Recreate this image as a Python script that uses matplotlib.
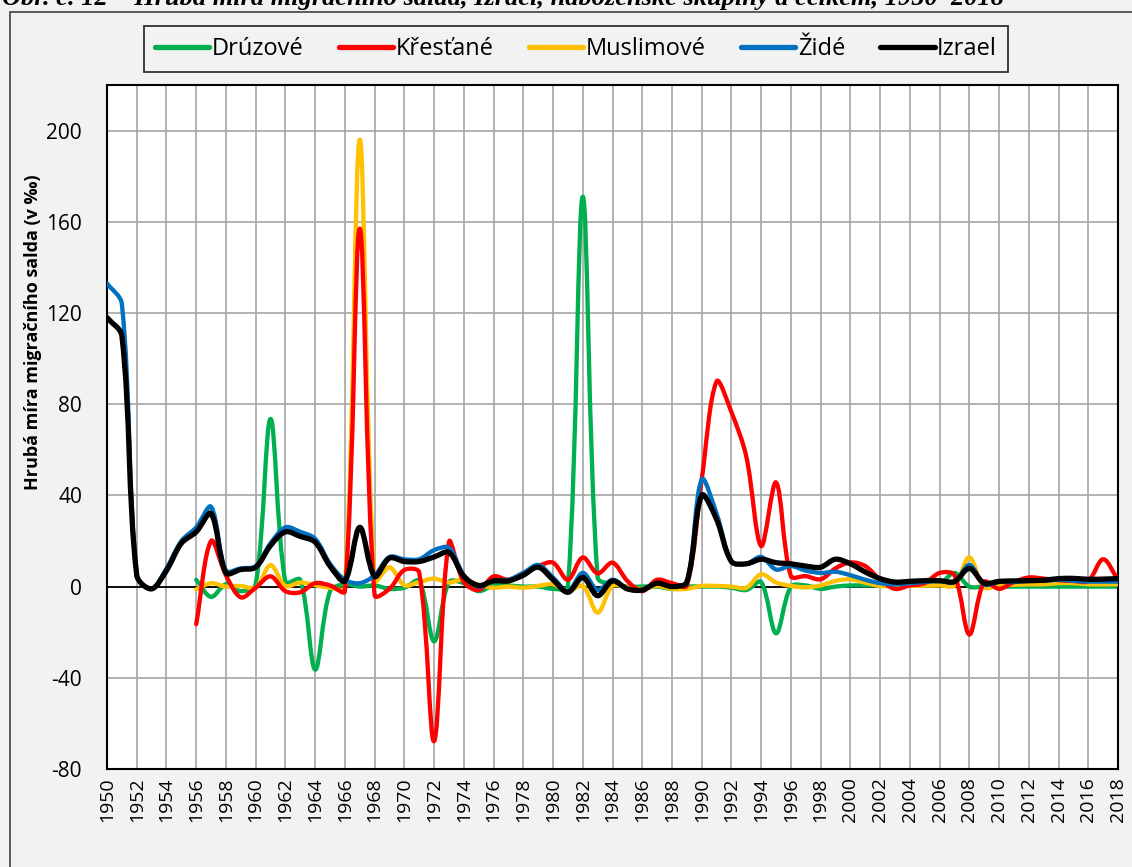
import numpy as np
import matplotlib
matplotlib.use("Agg")
import matplotlib.pyplot as plt
from matplotlib.path import Path
from matplotlib.patches import PathPatch, Rectangle
from matplotlib.lines import Line2D

plt.rcParams['font.family'] = ['Open Sans', 'DejaVu Sans']

years = list(range(1950, 2019))
years_rel = list(range(1956, 2019))

izrael = [118, 110, 5, -1, 7, 19, 24, 32, 6, 7.5, 8.5, 18, 24, 22, 19.5, 9, 2.5, 26, 4.5, 12.5,
          11, 11, 13, 15, 4.5, 0.5, 2.5, 2.5, 5, 8.5, 3, -2.5, 4, -4, 2.5, -1, -1.5, 1.5, 0, 2,
          40, 29.5, 11, 10, 12, 10.5, 10, 9, 8.5, 12, 10, 6.4, 3.5, 2, 2.3, 2.6, 2.6, 2.2, 8, 1.5,
          2.3, 2.5, 2.6, 2.8, 3.5, 3.6, 3.2, 3.3, 3.5]
zide = [133, 124, 5, -1, 8, 20, 26, 35, 7, 8, 9, 19, 26, 24, 21, 10, 3, 1.5, 5, 13,
        12, 12, 16, 17, 5, 0, 2.5, 3, 6, 9.5, 4, -2, 6, -1.5, 3, -1, -1.5, 1.5, 0, 2,
        47, 32, 11, 10, 13, 7.5, 9, 7, 6, 6.5, 5, 3, 1.5, 1, 1.5, 2, 2.5, 2, 9.5, 1,
        2, 2, 2.5, 2.5, 3, 2.5, 2.2, 2.2, 2.2]
druzove = [3, -4.5, 1, -2, 1, 73.5, 2, 3, -36.4, -2, 1, 0, 0.5, -1,
           -0.5, 2.5, -24, 2, 1.5, -2, 0.5, 0.5, 0, 0, -1, 0, 171, 4, 1, 0, 0, 0, -1, 0,
           0, 0, -0.5, -1.5, 2, -20.5, 0, 0.5, -1, 0, 0.5, 0.5, 0.5, 0.5, 0.5, 0.5, 1, 6, 0,
           0, 0, 0, 0, 0, 0, 0, 0, 0, 0]
krestane = [-16.5, 20, 5, -4.7, -0.5, 4.5, -2, -2.5, 1.5, 0.5, -2, 157, -3.8, -1,
            7.3, 6.2, -67.8, 19.5, 2, -1.5, 4.5, 3, 6, 9, 10.5, 3, 12.8, 5.8, 10.5, 2.5, -2, 3, 1.5, 0.5,
            47, 90, 76.5, 57, 17.8, 45.7, 4.6, 4.6, 3.2, 8, 10.6, 9, 3, -1, 0.5, 1.5, 6, 5, -21, 2,
            -1, 2, 4, 3.5, 2.8, 2.5, 2.5, 12, 3]
muslimove = [-1.2, 1.5, 0, 0.3, -0.5, 9.4, 0.3, 1.8, 0.6, -0.5, -0.5, 196, 2.5, 8.5,
             0.6, 2, 3.5, 1.8, 3.2, 0.6, -0.5, 0, -0.5, 0.3, 1, -2, 0.3, -11.4, 0.3, -0.3, -1, 0.3, -1, -1,
             0.3, 0.3, 0, -0.5, 5.4, 1.8, 0.3, -0.3, 0.5, 2.5, 3.2, 1.7, 0.3, 0.2, 0.3, 0.4, 0.5, 0.5, 12.8, -0.3,
             0.5, 0.8, 1, 1, 1.5, 1.5, 1, 1, 1]

series = [
    ("Drúzové", years_rel, druzove, "#00b050", 2),
    ("Křesťané", years_rel, krestane, "#ff0000", 4),
    ("Muslimové", years_rel, muslimove, "#ffc000", 3),
    ("Židé", years, zide, "#0070c0", 5),
    ("Izrael", years, izrael, "#000000", 6),
]

title = "Obr. č. 12 – Hrubá míra migračního salda, Izrael, náboženské skupiny a celkem, 1950–2018"
ylabel = "Hrubá míra migračního salda (v ‰)"
xticks = list(range(1950, 2019, 2))
yticks = list(range(-80, 201, 40))


def smooth_path(ax, xs, ys):
    """Excel-like smoothed line: Bezier segments, tangents split by segment length (screen space)."""
    D = ax.transData.transform(np.column_stack([np.asarray(xs, float), np.asarray(ys, float)]))
    n = len(D)
    out_c = [None] * n
    in_c = [None] * n
    for i in range(n):
        if i == 0:
            out_c[i] = D[0] + (D[1] - D[0]) / 3.0
            continue
        if i == n - 1:
            in_c[i] = D[i] - (D[i] - D[i - 1]) / 3.0
            continue
        d = D[i + 1] - D[i - 1]
        l1 = np.linalg.norm(D[i] - D[i - 1])
        l2 = np.linalg.norm(D[i + 1] - D[i])
        tot = l1 + l2 if (l1 + l2) > 0 else 1.0
        in_c[i] = D[i] - d * (l1 / tot) / 3.0
        out_c[i] = D[i] + d * (l2 / tot) / 3.0
    verts = [D[0]]
    codes = [Path.MOVETO]
    for i in range(n - 1):
        verts += [out_c[i], in_c[i + 1], D[i + 1]]
        codes += [Path.CURVE4] * 3
    V = ax.transData.inverted().transform(np.array(verts))
    return Path(V, codes)


W, H = 1132, 867
fig = plt.figure(figsize=(W / 100, H / 100), dpi=100, facecolor="#f2f2f2")
ax = fig.add_axes([107 / W, 1 - 769 / H, (1118 - 107) / W, (769 - 85) / H])
ax.set_facecolor("white")

ax.set_xlim(1950, 2018)
ax.set_ylim(-80, 220)
ax.set_xticks(xticks)
ax.set_xticklabels([str(x) for x in xticks], rotation=90, fontsize=14)
ax.set_yticks(yticks)
ax.set_yticklabels([str(y) for y in yticks], fontsize=15)
ax.tick_params(axis="both", length=0)
ax.tick_params(axis="y", pad=18)
ax.tick_params(axis="x", pad=6)
ax.grid(True, color="#a6a6a6", linewidth=1.2)
ax.set_axisbelow(True)
for s in ax.spines.values():
    s.set_color("black")
    s.set_linewidth(1.5)
ax.axhline(0, color="black", linewidth=1.3, zorder=1.5)

handles = []
for name, xs, ys, col, z in series:
    lw = 3.8 if name == "Izrael" else 3.1
    pp = PathPatch(smooth_path(ax, xs, ys), facecolor="none", edgecolor=col,
                   linewidth=lw, capstyle="round", joinstyle="round", zorder=z)
    ax.add_patch(pp)
    handles.append(Line2D([0], [0], color=col, linewidth=3.8, solid_capstyle="round", label=name))

leg = fig.legend(handles=handles, loc="center", bbox_to_anchor=(576 / W, 1 - 49 / H),
                 ncol=5, frameon=True, fontsize=17, handlelength=2.3, handletextpad=0.1,
                 columnspacing=1.5, borderpad=0.45, fancybox=False)
leg.get_frame().set_facecolor("#f2f2f2")
leg.get_frame().set_edgecolor("black")
leg.get_frame().set_linewidth(1.3)

fig.text(33 / W, 1 - 332 / H, ylabel, rotation=90, fontsize=13, fontweight="bold",
         ha="center", va="center")

fig.text(2 / W, 1 - 5 / H, title, fontsize=19, fontweight="bold", fontstyle="italic",
         family=["Liberation Serif", "DejaVu Serif"], ha="left", va="baseline")

fig.add_artist(Rectangle((10 / W, -0.05), 1.2, 1 - 12 / H + 0.05, transform=fig.transFigure,
                         facecolor="none", edgecolor="#404040", linewidth=1.2))

fig.savefig("out.png", dpi=100, facecolor=fig.get_facecolor())
